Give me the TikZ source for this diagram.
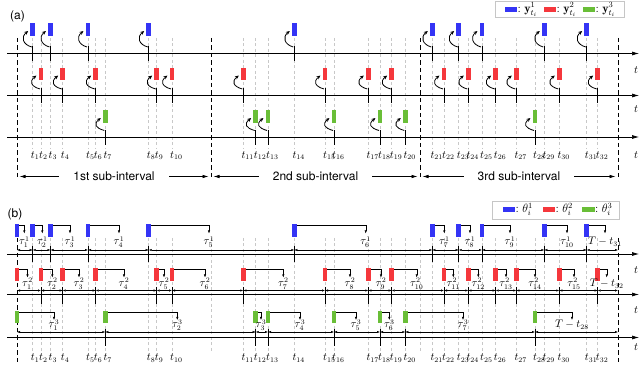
\documentclass[tikz,border=0pt]{standalone}
\usepackage{amsmath,amssymb}
\usepackage{xcolor}
\usepackage{tikz}
\usepackage{fontspec}
\setsansfont{TeX Gyre Heros}
\usetikzlibrary{positioning, calc, arrows.meta}

\definecolor{evblue}{RGB}{52,52,245}
\definecolor{evred}{RGB}{245,55,60}
\definecolor{evgreen}{RGB}{105,190,55}
\definecolor{gridgray}{RGB}{200,200,200}

% event times t_1 ... t_32 (x positions)
\newcommand{\eventtimes}{32.7,41,50.5,62.7,88,95.7,105.3,148.7,156.7,172,243.3,255.7,268,294.3,325,334,368.3,380,391.7,405.3,432.3,444,458.7,468.3,482,495.7,516.3,535,544.3,559.3,586.7,597.7}

\tikzset{
  axisline/.style={line width=0.7pt, -{Latex[length=7pt,width=4pt]}},
  gridline/.style={gridgray, line width=0.5pt, dash pattern=on 3pt off 2.5pt},
  bounds/.style={black, line width=0.7pt, dash pattern=on 4.5pt off 3pt},
  tickmark/.style={line width=0.8pt},
  pull/.style={line width=0.8pt, -{Stealth[length=4pt,width=3.5pt]}},
  gap/.style={line width=0.4pt, {Latex[length=3pt,width=2.2pt]}-{Latex[length=3pt,width=2.2pt]}},
  hook/.style={line width=0.4pt, -{Latex[length=3pt,width=2.2pt]}},
  span/.style={line width=0.6pt, {Latex[length=6pt,width=3.5pt]}-{Latex[length=6pt,width=3.5pt]}, shorten <=2.5pt, shorten >=2.5pt},
  lbl/.style={font=\fontsize{10.5}{12}\selectfont, inner sep=0pt},
  tag/.style={font=\sffamily\fontsize{12}{14}\selectfont, inner sep=1pt},
  keytext/.style={font=\fontsize{12}{13}\selectfont, inner sep=0pt, anchor=west},
}

\begin{document}
\begin{tikzpicture}[x=1pt, y=-1pt]

    \useasboundingbox (0,0) rectangle (640,379);

    % Panel tags
    \node[tag] (taga) at (17.5,16) {(a)};
    \node[tag] (tagb) at (15,214) {(b)};

    % Light dashed lines through every event time
    \foreach \x in \eventtimes {
        \draw[gridline] (\x,38) -- (\x,149);
        \draw[gridline] (\x,238) -- (\x,352);
    }
    \draw[gridline] (211,238) -- (211,352);
    \draw[gridline] (420,238) -- (420,352);

    % Time labels under both panels
    \foreach \x [count=\n] in \eventtimes {
        \node[lbl, anchor=base west] (ta\n) at (\x-2,158.3) {$t_{\n}$};
        \node[lbl, anchor=base west] (tb\n) at (\x-2,360.5) {$t_{\n}$};
    }

    % ---------------- Panel (a) ----------------
    % Sub-interval borders
    \foreach \x in {17,211,420,618}
        \draw[bounds] (\x,38) -- (\x,180);

    % One axis per type: marker, tick and curved arrow at each event
    \foreach \col/\ya/\mt/\evs in {evblue/53.5/23.5/{32.7,50.5,88,148.7,294.3,432.3,458.7,482,544.3,586.7},
        evred/95.5/68/{41,62.7,95.7,156.7,172,243.3,325,368.3,391.7,444,468.3,495.7,516.3,559.3,597.7},
        evgreen/137/110.5/{105.3,255.7,268,334,380,405.3,535}} {
        \draw[axisline] (7,\ya) -- (639,\ya);
        \foreach \x in \evs {
            \fill[\col] (\x-2.3,\mt) rectangle (\x+2.3,\mt+12.5);
            \draw[tickmark] (\x,\ya-7) -- (\x,\ya+8);
            \draw[pull] (\x-1,\ya-6.5) .. controls (\x-10,\ya-9) and (\x-12,\mt+13.5) .. (\x-4.5,\mt+7.5);
        }
    }
    \node[lbl] (ra1) at (636,70) {$t$};
    \node[lbl] (ra2) at (636,109) {$t$};
    \node[lbl] (ra3) at (636,155) {$t$};

    % Sub-interval arrows
    \draw[span] (17,176.5) -- (211,176.5) node[midway, tag, fill=white, inner xsep=14pt] (sub1) {1st sub-interval};
    \draw[span] (211,176.5) -- (420,176.5) node[midway, tag, fill=white, inner xsep=14pt] (sub2) {2nd sub-interval};
    \draw[span] (420,176.5) -- (618,176.5) node[midway, tag, fill=white, inner xsep=14pt] (sub3) {3rd sub-interval};

    % Legend (a)
    \draw[gray!45, line width=0.6pt] (495,1) rectangle (624,17);
    \fill[evblue] (505,7.5) rectangle (517,12);
    \node[keytext] (keya1) at (517.5,9.5) {$:\mathbf{y}^{1}_{t_i}$};
    \fill[evred] (544,7.5) rectangle (556,12);
    \node[keytext] (keya2) at (556.5,9.5) {$:\mathbf{y}^{2}_{t_i}$};
    \fill[evgreen] (583,7.5) rectangle (595,12);
    \node[keytext] (keya3) at (595.5,9.5) {$:\mathbf{y}^{3}_{t_i}$};

    % ---------------- Panel (b) ----------------
    \foreach \x in {17,618}
        \draw[bounds] (\x,238) -- (\x,362);

    % Type 1: start/end/bracket x/label
    \draw[axisline] (7,254) -- (639,254);
    \foreach \a/\b/\h/\lab [count=\k] in {17/32.7/24.3/\tau^1_1, 32.7/50.5/42.3/\tau^1_2, 50.5/88/70/\tau^1_3,
        88/148.7/119/\tau^1_4, 148.7/294.3/209/\tau^1_5, 294.3/432.3/365.7/\tau^1_6, 432.3/458.7/444.3/\tau^1_7,
        458.7/482/470/\tau^1_8, 482/544.3/510/\tau^1_9, 544.3/586.7/567/\tau^1_{10}, 586.7/618/605/T-t_{31}} {
        \fill[evblue] (\a-2.3,224.5) rectangle (\a+2.3,237);
        \draw[hook] (\a+2.3,225.5) -- (\h,225.5) -- (\h,233.5);
        \node[lbl, anchor=base] (tau1\k) at (\h,245) {$\lab$};
        \draw[gap] (\a,250) -- (\b,250);
    }
    \foreach \x in {32.7,50.5,88,148.7,294.3,432.3,458.7,482,544.3,586.7}
        \draw[tickmark] (\x,246) -- (\x,262);

    % Type 2
    \draw[axisline] (7,294.5) -- (639,294.5);
    \foreach \a/\b/\h/\lab [count=\k] in {17/41/27.5/\tau^2_1, 41/62.7/52.3/\tau^2_2, 62.7/95.7/79/\tau^2_3,
        95.7/156.7/124/\tau^2_4, 156.7/172/164/\tau^2_5, 172/243.3/205/\tau^2_6, 243.3/325/283.3/\tau^2_7,
        325/368.3/350/\tau^2_8, 368.3/391.7/381/\tau^2_9, 391.7/444/416.7/\tau^2_{10}, 444/468.3/453.3/\tau^2_{11},
        468.3/495.7/478.3/\tau^2_{12}, 495.7/516.3/506/\tau^2_{13}, 516.3/559.3/535/\tau^2_{14},
        559.3/597.7/574/\tau^2_{15}, 597.7/618/606.7/T-t_{32}} {
        \fill[evred] (\a-2.3,268.5) rectangle (\a+2.3,281);
        \draw[hook] (\a+2.3,269.5) -- (\h,269.5) -- (\h,277.5);
        \node[lbl, anchor=base] (tau2\k) at (\h,286.5) {$\lab$};
        \draw[gap] (\a,290.5) -- (\b,290.5);
    }
    \foreach \x in {41,62.7,95.7,156.7,172,243.3,325,368.3,391.7,444,468.3,495.7,516.3,559.3,597.7}
        \draw[tickmark] (\x,287) -- (\x,304);

    % Type 3
    \draw[axisline] (7,337.5) -- (639,337.5);
    \foreach \a/\b/\h/\lab [count=\k] in {17/105.3/54/\tau^3_1, 105.3/255.7/177.3/\tau^3_2, 255.7/268/261/\tau^3_3,
        268/334/300/\tau^3_4, 334/380/356/\tau^3_5, 380/405.3/389.3/\tau^3_6, 405.3/535/463/\tau^3_7,
        535/618/572/T-t_{28}} {
        \fill[evgreen] (\a-2.3,311) rectangle (\a+2.3,323.5);
        \draw[hook] (\a+2.3,312) -- (\h,312) -- (\h,320);
        \node[lbl, anchor=base] (tau3\k) at (\h,328) {$\lab$};
        \draw[gap] (\a,332) -- (\b,332);
    }
    \foreach \x in {105.3,255.7,268,334,380,405.3,535}
        \draw[tickmark] (\x,329) -- (\x,346);

    \node[lbl] (rb1) at (636,270) {$t$};
    \node[lbl] (rb2) at (636,310) {$t$};
    \node[lbl] (rb3) at (636,347) {$t$};

    % Legend (b)
    \draw[gray!45, line width=0.6pt] (492.7,201) rectangle (619,219);
    \fill[evblue] (502.7,206.7) rectangle (515,211.7);
    \node[keytext] (keyb1) at (515.5,209.5) {$:\theta^{1}_{i}$};
    \fill[evred] (542.7,206.7) rectangle (555,211.7);
    \node[keytext] (keyb2) at (555.5,209.5) {$:\theta^{2}_{i}$};
    \fill[evgreen] (582.3,206.7) rectangle (594.5,211.7);
    \node[keytext] (keyb3) at (595,209.5) {$:\theta^{3}_{i}$};

\end{tikzpicture}
\end{document}
